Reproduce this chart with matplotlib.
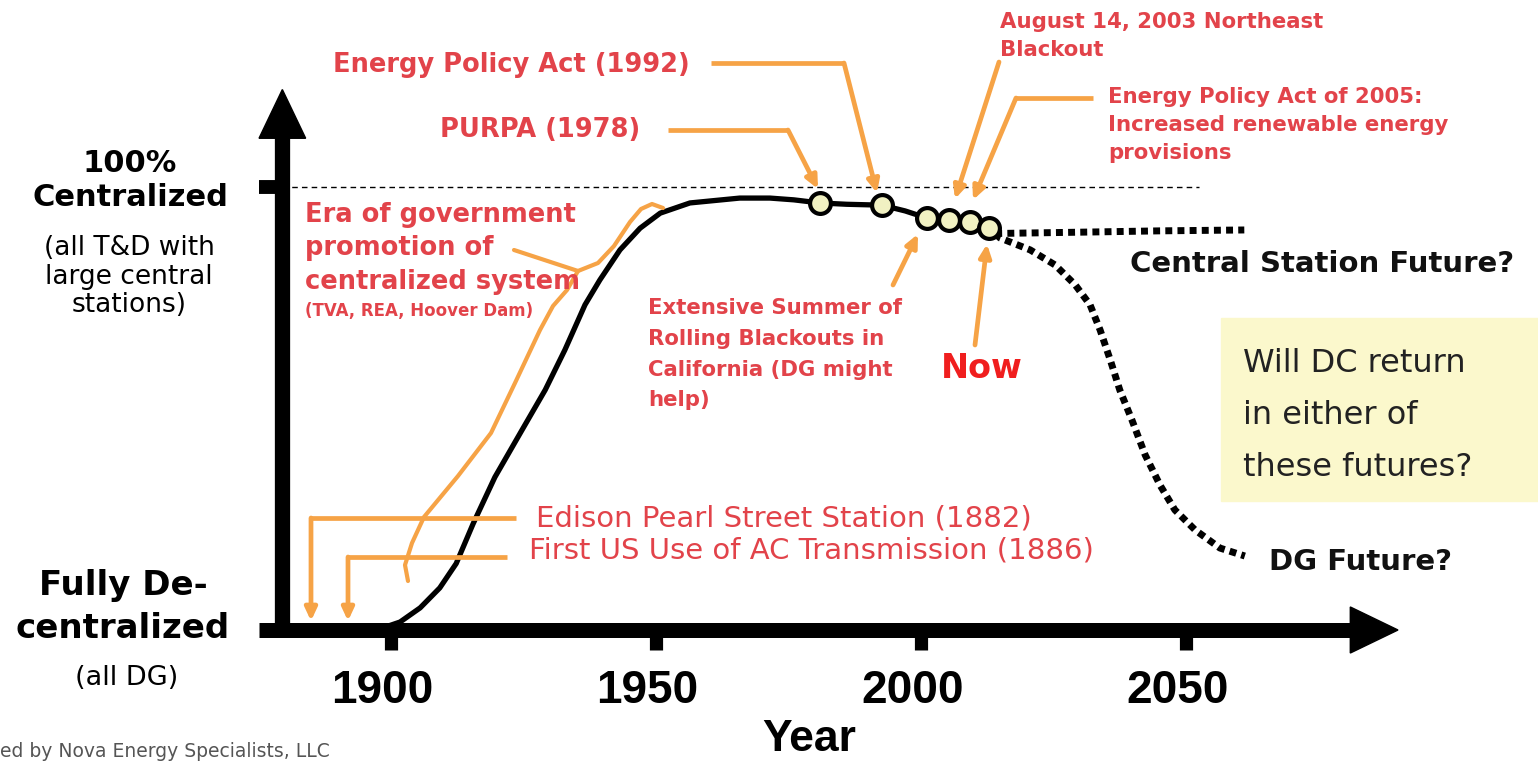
import numpy as np
import matplotlib.pyplot as plt
from matplotlib.patches import Rectangle, Polygon

W, H = 1538, 761

# historical share of centralized supply (schematic, % centralized)
hist_years = [1879.5, 1893, 1897, 1899, 1901.7, 1905.5, 1909.2, 1912.3, 1915.5, 1919.6,
              1924.7, 1929.1, 1932.8, 1936.6, 1939.4, 1943.2, 1947.0, 1950.8, 1956.4,
              1965.8, 1971.5, 1976, 1980.9, 1986, 1992.6, 1997, 2001.1, 2005.3,
              2009.2, 2012.8]
hist_share = [0, 0, 0.3, 0.7, 1.8, 5.0, 9.5, 15.0, 24.0, 34.5,
              45.1, 54.2, 63.2, 73.4, 79.0, 85.8, 90.7, 94.1, 96.4,
              97.5, 97.5, 97.1, 96.4, 96.1, 95.9, 94.6, 93.0, 92.6,
              92.1, 90.7]

# event markers on the curve (PURPA, EPAct 1992, CA blackouts, NE blackout, EPAct 2005, now)
event_years = [1980.9, 1992.6, 2001.1, 2005.3, 2009.2, 2012.8]
event_share = [96.4, 95.9, 93.0, 92.6, 92.1, 90.7]

# possible futures
central_years = [2014.0, 2030, 2045, 2061]
central_share = [89.5, 89.8, 90.1, 90.3]
dg_years = [2014.0, 2014.9, 2020.6, 2025.3, 2029.1, 2031.9, 2033.8, 2035.7, 2037.5,
            2039.8, 2042.3, 2045.1, 2047.9, 2051.7, 2056.4, 2061.1]
dg_share = [89.5, 88.5, 85.8, 82.4, 77.9, 73.4, 67.7, 61.0, 54.2,
            47.4, 39.5, 32.7, 27.1, 22.6, 18.5, 16.7]

tick_years = [1900, 1950, 2000, 2050]

RED = '#e2434a'
ORANGE = '#f6a346'

fig = plt.figure(figsize=(W / 100, H / 100), dpi=100)
ax = fig.add_axes([0, 0, 1, 1])
px_per_year = 5.3
px_per_pct = 4.43
ax.set_xlim(1900 - 391 / px_per_year, 1900 + (W - 391) / px_per_year)
ax.set_ylim(-(H - 630) / px_per_pct, 630 / px_per_pct)
ax.axis('off')

# pixel-space overlay for the annotation layout
lay = fig.add_axes([0, 0, 1, 1], facecolor='none')
lay.set_xlim(0, W)
lay.set_ylim(H, 0)
lay.axis('off')

x0 = 1879.5
# axes with arrow heads
ax.plot([x0 - 4.5, 2082], [0, 0], color='k', lw=10.8, solid_capstyle='butt')
ax.add_patch(Polygon([[2081, 5.2], [2090, 0], [2081, -5.2]], closed=True, color='k'))
ax.plot([x0, x0], [0, 112], color='k', lw=11, solid_capstyle='butt')
ax.add_patch(Polygon([[x0 - 4.4, 111], [x0, 122], [x0 + 4.4, 111]], closed=True, color='k'))
ax.plot([x0 - 4.5, x0], [100, 100], color='k', lw=10, solid_capstyle='butt')
for t in tick_years:
    ax.plot([t, t], [0, -4.5], color='k', lw=9.5, solid_capstyle='butt')
    ax.text(t - 1.6, -(703 - 630) / px_per_pct, str(t), ha='center', va='baseline',
            fontsize=33, fontweight='bold', family='Liberation Sans')
ax.plot([x0, 2052.5], [100, 100], color='k', lw=1, ls=(0, (4, 3)))

# curves
ax.plot(hist_years, hist_share, color='k', lw=3.8, solid_capstyle='round')
ax.plot(central_years, central_share, color='k', lw=5, ls=(0, (1, 0.75)))
ax.plot(dg_years, dg_share, color='k', lw=5, ls=(0, (1, 0.75)))
ax.plot(event_years, event_share, 'o', ms=15, mfc='#f1f1c2', mec='k', mew=3, zorder=5)


def T(x, ys, lines, **kw):
    kw.setdefault('va', 'center')
    if isinstance(lines, str):
        lines, ys = [lines], [ys]
    for y, s in zip(ys, lines):
        lay.text(x, y, s, **kw)


# left labels
T(130, 163, '100%', ha='center', fontsize=22, fontweight='bold')
T(130, 197, 'Centralized', ha='center', fontsize=22, fontweight='bold')
T(129, [248, 277, 305], ['(all T&D with', 'large central', 'stations)'], ha='center', fontsize=19)
T(123, [585, 628], ['Fully De-', 'centralized'], ha='center', fontsize=24.5, fontweight='bold')
T(127, 678, '(all DG)', ha='center', fontsize=19.5)
lay.text(809, 760, 'Year', ha='center', va='bottom', fontsize=32, fontweight='bold',
         family='Liberation Sans')
lay.text(0, 757, 'ed by Nova Energy Specialists, LLC', ha='left', va='baseline',
         fontsize=13.5, color='#555555')

# red annotations
bold_red = dict(ha='left', fontweight='bold', color=RED)
T(333, 65, 'Energy Policy Act (1992)', fontsize=18.5, **bold_red)
T(440, 130, 'PURPA (1978)', fontsize=18.5, **bold_red)
T(305, [215, 248, 282], ['Era of government', 'promotion of', 'centralized system'],
  fontsize=18.5, **bold_red)
T(305, 311, '(TVA, REA, Hoover Dam)', fontsize=12, **bold_red)
T(648, [308, 339, 370, 400],
  ['Extensive Summer of', 'Rolling Blackouts in', 'California (DG might', 'help)'],
  fontsize=15.3, **bold_red)
T(982, 368, 'Now', ha='center', fontsize=24, fontweight='bold', color='#f01e1e')
T(1000, [22, 50], ['August 14, 2003 Northeast', 'Blackout'], fontsize=15.3, **bold_red)
T(1108, [97, 125, 153],
  ['Energy Policy Act of 2005:', 'Increased renewable energy', 'provisions'],
  fontsize=15.3, **bold_red)
T(536, 519, 'Edison Pearl Street Station (1882)', ha='left', fontsize=21, color=RED)
T(529, 551, 'First US Use of AC Transmission (1886)', ha='left', fontsize=21, color=RED)

# black future labels
T(1130, 264, 'Central Station Future?', ha='left', fontsize=21, fontweight='bold', color='#111111')
T(1269, 562, 'DG Future?', ha='left', fontsize=21, fontweight='bold', color='#111111')

# yellow question box
lay.add_patch(Rectangle((1221, 318), 330, 183, color='#fbf8cc', zorder=0))
T(1243, [364, 416, 467], ['Will DC return', 'in either of', 'these futures?'], ha='left',
  fontsize=23, color='#222222')

# orange leader arrows
arrows = [
    [(711, 63), (844, 63), (877, 193)],
    [(668, 130), (788, 130), (818, 189)],
    [(999, 62), (955, 199)],
    [(1093, 98), (1016, 98), (973, 200)],
    [(893, 285), (918, 234)],
    [(975, 345), (987, 244)],
    [(516, 518), (311, 518), (311, 621)],
    [(507, 557), (348, 557), (348, 621)],
]
for pts in arrows:
    xs, ys = zip(*pts)
    lay.plot(xs[:-1], ys[:-1], color=ORANGE, lw=3.4, solid_capstyle='butt')
    lay.annotate('', xy=pts[-1], xytext=pts[-2],
                 arrowprops=dict(arrowstyle='-|>,head_length=0.75,head_width=0.35',
                                 color=ORANGE, lw=3.4, shrinkA=0, shrinkB=0))

# brace next to "Era of government..."
brace = np.array([(663, 208), (652, 204), (641, 209), (630, 222), (614, 246),
                  (598, 263), (578, 271), (567, 290), (553, 306), (540, 330),
                  (515, 383), (491, 433), (458, 476), (424, 517), (412, 543),
                  (405, 565), (408, 581)])
lay.plot(brace[:, 0], brace[:, 1], color=ORANGE, lw=3, solid_capstyle='round')
lay.plot([514, 578], [250, 271], color=ORANGE, lw=3, solid_capstyle='round')

fig.savefig('out.png', dpi=100)
